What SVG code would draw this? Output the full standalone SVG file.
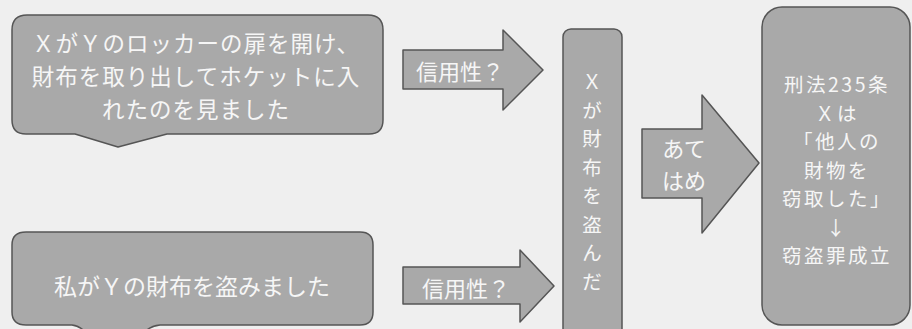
<svg xmlns="http://www.w3.org/2000/svg" width="912" height="329" viewBox="0 0 912 329">
<style>
.shape{fill:#a9a9a9;stroke:#555;stroke-width:1.5;stroke-linejoin:round}
.t{font-family:"Noto Sans CJK JP","Noto Sans",sans-serif;fill:#f6f6f6;text-anchor:middle;dominant-baseline:central}
</style>
<rect x="0" y="0" width="912" height="329" fill="#efefef"/>
<g id="testimony1">
<path class="shape" d="M27,15 H368 Q383,15 383,30 V120 Q383,134 369,134 H167 L118,147 L75,134 H26 Q12,134 12,120 V30 Q12,15 27,15 Z"/>
<text class="t" font-size="22.5" letter-spacing="1"><tspan x="196" y="42">ＸがＹのロッカーの扉を開け、</tspan><tspan x="196" y="75">財布を取り出してホケットに入</tspan><tspan x="196" y="108">れたのを見ました</tspan></text>
</g>
<g id="testimony2">
<path class="shape" d="M26,232 H360 Q373,232 373,245 V312 Q373,325 360,325 H160 Q150,326 145,332 L85,332 Q80,326 72,325 H26 Q12,325 12,312 V245 Q12,232 26,232 Z"/>
<text class="t" x="192" y="285" font-size="23">私がＹの財布を盗みました</text>
</g>
<g id="fact">
<rect class="shape" x="563" y="29" width="59" height="320" rx="8"/>
<text class="t" font-size="19.5"><tspan x="592" y="80">Ｘ</tspan><tspan x="592" y="108.5">が</tspan><tspan x="592" y="137">財</tspan><tspan x="592" y="165.5">布</tspan><tspan x="592" y="194">を</tspan><tspan x="592" y="222.5">盗</tspan><tspan x="592" y="251">ん</tspan><tspan x="592" y="279.5">だ</tspan></text>
</g>
<g id="law">
<rect class="shape" x="762" y="7" width="148" height="318" rx="20"/>
<text class="t" font-size="19.5" letter-spacing="2.5"><tspan x="837" y="83">刑法235条</tspan><tspan x="837" y="111.5">Ｘは</tspan><tspan x="837" y="140">「他人の</tspan><tspan x="837" y="168.5">財物を</tspan><tspan x="837" y="197">窃取した」</tspan><tspan x="837" y="225.5">↓</tspan><tspan x="837" y="254">窃盗罪成立</tspan></text>
</g>
<g id="connectors">
<g id="arrow1">
<path class="shape" d="M403,50 H503 V30 L543,70 L503,110 V89 H403 Z"/>
<text class="t" x="460" y="70" font-size="22">信用性？</text>
</g>
<g id="arrow2">
<path class="shape" d="M403,267 H520 V250 L554,286 L520,322 V304 H403 Z"/>
<text class="t" x="466" y="287" font-size="22">信用性？</text>
</g>
<g id="arrow3">
<path class="shape" d="M642,129 H702 V95 L759,163 L702,233 V198 H642 Z"/>
<text class="t" font-size="22"><tspan x="684" y="147">あて</tspan><tspan x="684" y="179">はめ</tspan></text>
</g>
</g>
</svg>
